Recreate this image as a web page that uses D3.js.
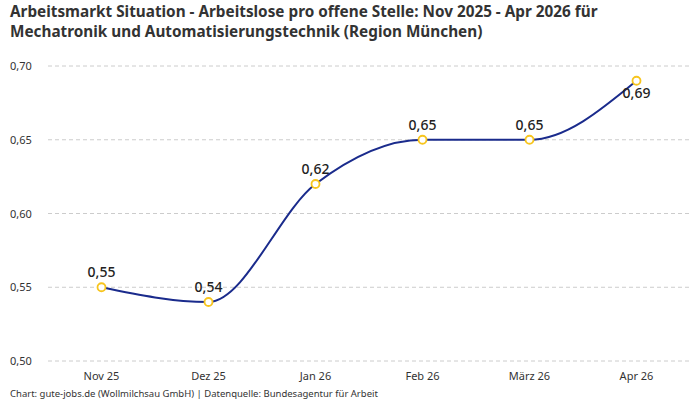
<!DOCTYPE html>
<html>
<head>
<meta charset="utf-8">
<script src="https://cdn.jsdelivr.net/npm/d3@7"></script>
<style>
  body { margin: 0; background: #fff; }
  text { font-family: "Noto Sans", "DejaVu Sans", sans-serif; }
</style>
</head>
<body>
<script>
// data
const months = ["Nov 25", "Dez 25", "Jan 26", "Feb 26", "März 26", "Apr 26"];
const values = [0.55, 0.54, 0.62, 0.65, 0.65, 0.69];
const yTicks = [0.5, 0.55, 0.6, 0.65, 0.7];
// ----------

const w = 700;
const h = 400;
const p = { t: 66, r: 10, b: 39, l: 48 };
const fmt = (v) => v.toFixed(2).replace(".", ",");

const svg = d3.select("body").append("svg").attr("width", w).attr("height", h);

// title
const title = svg.append("text")
  .attr("x", 10).attr("y", 17)
  .attr("font-size", 15.3).attr("font-weight", "bold").attr("fill", "#333");
title.append("tspan").attr("x", 10).attr("dy", 0)
  .text("Arbeitsmarkt Situation - Arbeitslose pro offene Stelle: Nov 2025 - Apr 2026 für");
title.append("tspan").attr("x", 10).attr("dy", 20)
  .text("Mechatronik und Automatisierungstechnik (Region München)");

// scales
const x = d3.scalePoint().domain(months).range([p.l, w - p.r]).padding(0.5);
const y = d3.scaleLinear().domain([0.5, 0.7]).range([h - p.b, p.t]);

// grid
svg.append("g").selectAll("line").data(yTicks).enter().append("line")
  .attr("x1", p.l).attr("x2", w - p.r)
  .attr("y1", (d) => y(d)).attr("y2", (d) => y(d))
  .attr("stroke", "#ccc").attr("stroke-dasharray", "4,3");

// y labels
svg.append("g").selectAll("text").data(yTicks).enter().append("text")
  .attr("x", 10).attr("y", (d) => y(d) + 4)
  .attr("font-size", 11).attr("fill", "#333")
  .text(fmt);

// x labels
svg.append("g").selectAll("text").data(months).enter().append("text")
  .attr("x", (d) => x(d)).attr("y", 380)
  .attr("text-anchor", "middle").attr("font-size", 11).attr("fill", "#333")
  .text((d) => d);

// line
const line = d3.line()
  .x((d, i) => x(months[i]))
  .y((d) => y(d))
  .curve(d3.curveMonotoneX);
svg.append("path").datum(values)
  .attr("d", line).attr("fill", "none")
  .attr("stroke", "#1a2b8c").attr("stroke-width", 2);

// points
svg.append("g").selectAll("circle").data(values).enter().append("circle")
  .attr("cx", (d, i) => x(months[i])).attr("cy", (d) => y(d)).attr("r", 4)
  .attr("fill", "#fff").attr("stroke", "#f7c51e").attr("stroke-width", 1.8);

// value labels
svg.append("g").selectAll("text").data(values).enter().append("text")
  .attr("x", (d, i) => x(months[i]))
  .attr("y", (d, i) => i === values.length - 1 ? y(d) + 17 : y(d) - 10)
  .attr("text-anchor", "middle").attr("font-size", 14).attr("font-weight", 500).attr("fill", "#222")
  .text(fmt);

// footer
svg.append("text").attr("x", 10).attr("y", 397)
  .attr("font-size", 9.5).attr("fill", "#333")
  .text("Chart: gute-jobs.de (Wollmilchsau GmbH) | Datenquelle: Bundesagentur für Arbeit");
</script>
</body>
</html>
